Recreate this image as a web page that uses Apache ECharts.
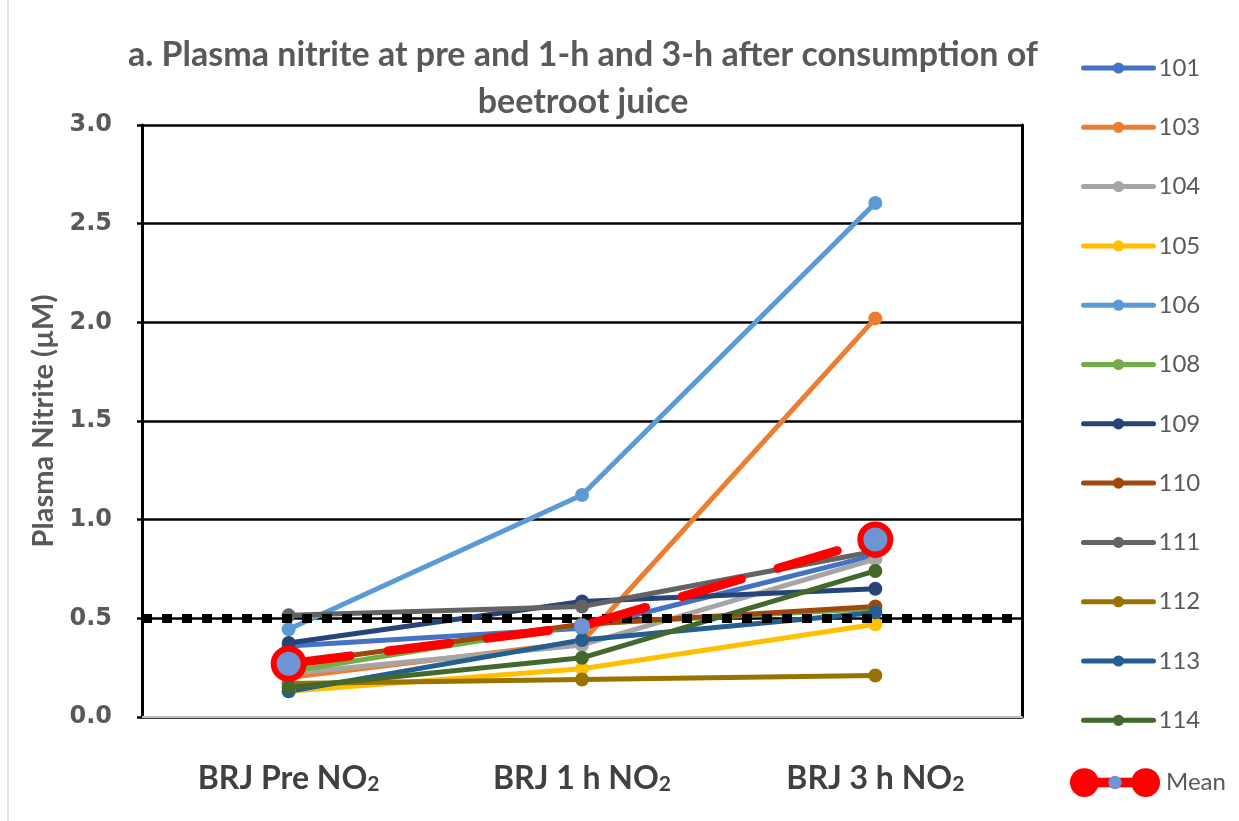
<!DOCTYPE html>
<html>
<head>
<meta charset="utf-8">
<script src="https://cdn.jsdelivr.net/npm/echarts@6/dist/echarts.min.js"></script>
<style>html,body{margin:0;padding:0;background:#fff;}#c{width:1239px;height:821px;}</style>
</head>
<body>
<div id="c"></div>
<script>
// ---- data ----
const categories = ['Pre', '1 h', '3 h'];
const categoryLabels = ['{a|BRJ Pre NO}{s|2}', '{a|BRJ 1 h NO}{s|2}', '{a|BRJ 3 h NO}{s|2}'];
const yTicks = [0, 0.5, 1.0, 1.5, 2.0, 2.5, 3.0];
const s101 = [0.36, 0.45, 0.82];
const s103 = [0.20, 0.38, 2.02];
const s104 = [0.22, 0.365, 0.80];
const s105 = [0.13, 0.245, 0.47];
const s106 = [0.445, 1.125, 2.605];
const s108 = [0.23, 0.47, 0.55];
const s109 = [0.375, 0.585, 0.65];
const s110 = [0.27, 0.47, 0.56];
const s111 = [0.515, 0.56, 0.84];
const s112 = [0.17, 0.19, 0.21];
const s113 = [0.13, 0.39, 0.53];
const s114 = [0.15, 0.30, 0.74];
const meanValues = [0.27, 0.46, 0.90];
const threshold = 0.5;

const subjects = [
  ['101', s101, '#4472C4'],
  ['103', s103, '#ED7D31'],
  ['104', s104, '#A5A5A5'],
  ['105', s105, '#FFC000'],
  ['106', s106, '#5B9BD5'],
  ['108', s108, '#70AD47'],
  ['109', s109, '#264478'],
  ['110', s110, '#9E480E'],
  ['111', s111, '#636363'],
  ['112', s112, '#997300'],
  ['113', s113, '#255E91'],
  ['114', s114, '#43682B']
];

const meanIcon = 'image://data:image/svg+xml;utf8,' + encodeURIComponent(
  '<svg xmlns="http://www.w3.org/2000/svg" width="96" height="32" viewBox="0 0 96 32">' +
  '<rect x="14" y="11" width="68" height="10" fill="#FF0000"/>' +
  '<circle cx="16" cy="16" r="15" fill="#FF0000"/>' +
  '<circle cx="80" cy="16" r="15" fill="#FF0000"/>' +
  '<circle cx="48" cy="16" r="7" fill="#6F94D6"/></svg>');

const series = subjects.map(([name, vals, color]) => ({
  name: name,
  type: 'line',
  data: vals,
  symbol: 'circle',
  symbolSize: 14,
  color: color,
  lineStyle: { width: 5, color: color },
  itemStyle: { color: color },
  z: 3
}));

series[0].markLine = {
  silent: true,
  symbol: 'none',
  label: { show: false },
  lineStyle: { color: '#000', width: 9, type: [10, 10], cap: 'butt' },
  data: [{ yAxis: threshold }],
  z: 6
};

series.push({
  name: 'Mean',
  type: 'line',
  data: meanValues.map((v, i) => i === 1
    ? { value: v, symbolSize: 16, itemStyle: { color: '#6F94D6', borderWidth: 0 } }
    : { value: v, symbolSize: 30, itemStyle: { color: '#6F94D6', borderColor: '#FF0000', borderWidth: 6 } }),
  symbol: 'circle',
  color: '#FF0000',
  lineStyle: { width: 9, color: '#FF0000', type: [62, 38], cap: 'round' },
  itemStyle: { color: '#6F94D6' },
  z: 8
});

const legendNames = subjects.map(s => s[0]);

const chart = echarts.init(document.getElementById('c'), null, { renderer: 'canvas' });
chart.setOption({
  animation: false,
  backgroundColor: '#fff',
  textStyle: { fontFamily: 'Lato' },
  title: {
    text: 'a. Plasma nitrite at pre and 1-h and 3-h after consumption of\nbeetroot juice',
    left: 578,
    textAlign: 'center',
    top: 27,
    textStyle: { fontFamily: 'Lato', fontWeight: 'bold', fontSize: 34, color: '#595959', lineHeight: 47 }
  },
  legend: [{
    orient: 'vertical',
    left: 1076,
    top: 51,
    itemWidth: 70,
    itemHeight: 14,
    itemGap: 35.3,
    data: legendNames,
    lineStyle: { width: 5, cap: 'round' },
    textStyle: { fontFamily: 'Lato', fontSize: 24, color: '#595959', lineHeight: 24 }
  }, {
    orient: 'vertical',
    left: 1064,
    top: 762,
    itemWidth: 92,
    itemHeight: 31,
    data: [{ name: 'Mean', icon: meanIcon }],
    textStyle: { fontFamily: 'Lato', fontSize: 24, color: '#595959', lineHeight: 24 }
  }],
  grid: { left: 142, right: 217, top: 125, bottom: 104, containLabel: false },
  xAxis: {
    type: 'category',
    data: categories,
    boundaryGap: true,
    axisLine: { show: true, lineStyle: { color: '#BFBFBF', width: 2 } },
    axisTick: { show: false },
    splitLine: { show: false },
    axisLabel: {
      margin: 44,
      formatter: (v, i) => categoryLabels[i],
      rich: {
        a: { fontFamily: 'Lato', fontWeight: 'bold', fontSize: 32, color: '#404040', lineHeight: 34, verticalAlign: 'bottom' },
        s: { fontFamily: 'Lato', fontWeight: 'bold', fontSize: 21, color: '#404040', lineHeight: 34, verticalAlign: 'bottom', padding: [14, 0, 0, 0] }
      }
    }
  },
  yAxis: [{
    type: 'value',
    min: 0,
    max: 3,
    interval: 0.5,
    name: 'Plasma Nitrite (\u00B5M)',
    nameLocation: 'middle',
    nameGap: 80,
    nameTextStyle: { fontFamily: 'Lato', fontWeight: 'bold', fontSize: 29, color: '#595959' },
    axisLine: { show: true, lineStyle: { color: '#000', width: 3 } },
    axisTick: { show: true, length: 5, lineStyle: { color: '#000', width: 2.5 } },
    splitLine: { show: true, lineStyle: { color: '#000', width: 2.5 } },
    axisLabel: {
      margin: 30,
      fontFamily: 'DejaVu Sans', fontWeight: 'bold', fontSize: 24, color: '#595959',
      formatter: v => yTicks.indexOf(v) >= 0 ? v.toFixed(1) : ''
    }
  }, {
    type: 'value',
    position: 'right',
    min: 0,
    max: 3,
    interval: 0.5,
    axisLine: { show: true, lineStyle: { color: '#000', width: 3 } },
    axisTick: { show: false },
    axisLabel: { show: false },
    splitLine: { show: false }
  }],
  graphic: [{
    type: 'line',
    shape: { x1: 8, y1: 0, x2: 8, y2: 821 },
    style: { stroke: '#D9D9D9', lineWidth: 1.5 },
    silent: true
  }],
  series: series
});
</script>
</body>
</html>
